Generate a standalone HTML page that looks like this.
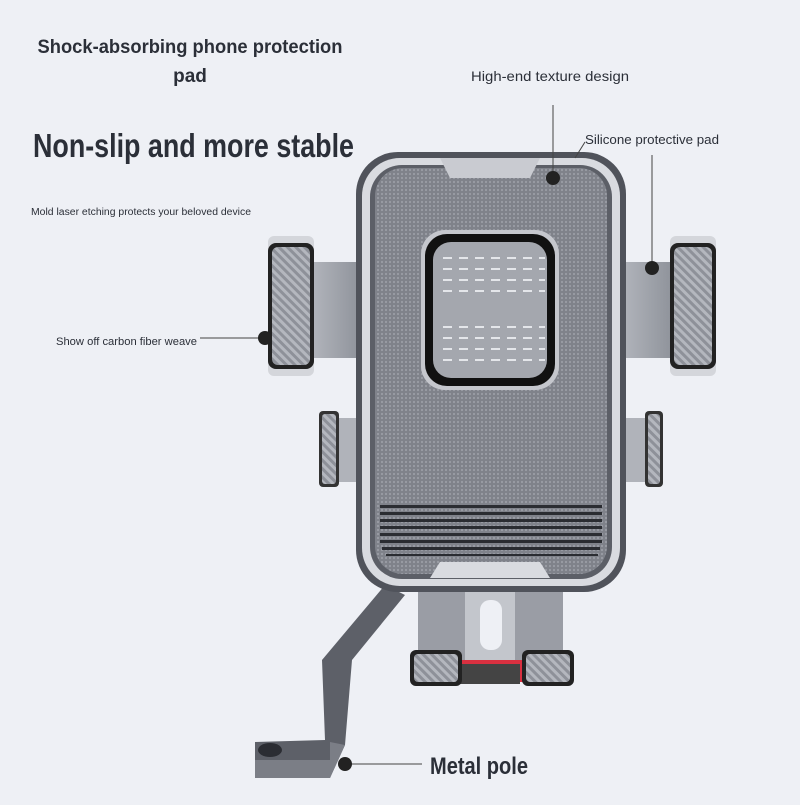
<!DOCTYPE html>
<html><head><meta charset="utf-8"><style>
html,body{margin:0;padding:0}
body{width:800px;height:800px;overflow:hidden;background:#eef0f5;font-family:"Liberation Sans",sans-serif}
</style></head><body>
<svg width="800" height="800" viewBox="0 0 800 800" xmlns="http://www.w3.org/2000/svg">
<defs>
<pattern id="tex" width="4" height="4" patternUnits="userSpaceOnUse"><rect width="4" height="4" fill="#7f828a"/><circle cx="2" cy="2" r="1.1" fill="#9a9da5"/></pattern>
<pattern id="cf" width="6" height="6" patternUnits="userSpaceOnUse" patternTransform="rotate(-45)"><rect width="6" height="6" fill="#8e9199"/><rect width="3" height="6" fill="#b4b7be"/></pattern>
<linearGradient id="arm" x1="0" x2="1"><stop offset="0" stop-color="#b3b6bd"/><stop offset="1" stop-color="#8f939b"/></linearGradient>
</defs>
<rect width="800" height="800" fill="#eef0f5"/>
<g font-family="Liberation Sans, sans-serif" fill="#2b2f38">
<text x="190" y="53" font-size="19" font-weight="bold" text-anchor="middle" textLength="305" lengthAdjust="spacingAndGlyphs">Shock-absorbing phone protection</text>
<text x="190" y="82" font-size="19" font-weight="bold" text-anchor="middle">pad</text>
<text x="33" y="157" font-size="33" font-weight="bold" textLength="321" lengthAdjust="spacingAndGlyphs">Non-slip and more stable</text>
<text x="31" y="215" font-size="10" textLength="220" lengthAdjust="spacingAndGlyphs">Mold laser etching protects your beloved device</text>
<text x="471" y="81" font-size="14" textLength="158" lengthAdjust="spacingAndGlyphs">High-end texture design</text>
<text x="585" y="144" font-size="13" textLength="134" lengthAdjust="spacingAndGlyphs">Silicone protective pad</text>
<text x="56" y="345" font-size="11" textLength="141" lengthAdjust="spacingAndGlyphs">Show off carbon fiber weave</text>
<text x="430" y="774" font-size="24" font-weight="bold" textLength="98" lengthAdjust="spacingAndGlyphs">Metal pole</text>
</g>
<!-- pole -->
<path d="M385 585 L405 595 L352 660 L345 745 L330 778 L255 778 L255 742 L325 740 L322 660 Z" fill="#5d6068"/>
<path d="M330 742 L345 745 L330 778 L255 778 L255 760 L330 760Z" fill="#7b7e86"/>
<ellipse cx="270" cy="750" rx="12" ry="7" fill="#2b2d33"/>
<!-- bottom clamp -->
<rect x="418" y="585" width="145" height="95" fill="#9a9da5"/>
<rect x="465" y="590" width="50" height="90" fill="#c3c6cc"/>
<rect x="480" y="600" width="22" height="50" rx="10" fill="#eef0f5"/>
<rect x="445" y="660" width="90" height="22" fill="#d93040"/>
<rect x="460" y="664" width="60" height="20" fill="#444"/>
<rect x="410" y="650" width="52" height="36" rx="6" fill="#222"/><rect x="414" y="654" width="44" height="28" rx="4" fill="url(#cf)"/>
<rect x="522" y="650" width="52" height="36" rx="6" fill="#222"/><rect x="526" y="654" width="44" height="28" rx="4" fill="url(#cf)"/>
<!-- side arms -->
<rect x="310" y="262" width="50" height="96" fill="url(#arm)"/>
<rect x="620" y="262" width="52" height="96" fill="url(#arm)"/>
<rect x="325" y="418" width="35" height="64" fill="#b0b3ba"/>
<rect x="620" y="418" width="35" height="64" fill="#b0b3ba"/>
<rect x="268" y="236" width="46" height="140" rx="6" fill="#d4d6db"/>
<rect x="268" y="243" width="46" height="126" rx="8" fill="#222"/><rect x="272" y="247" width="38" height="118" rx="6" fill="url(#cf)"/>
<rect x="670" y="236" width="46" height="140" rx="6" fill="#d4d6db"/>
<rect x="670" y="243" width="46" height="126" rx="8" fill="#222"/><rect x="674" y="247" width="38" height="118" rx="6" fill="url(#cf)"/>
<rect x="319" y="411" width="20" height="76" rx="4" fill="#333"/><rect x="322" y="414" width="14" height="70" rx="3" fill="url(#cf)"/>
<rect x="645" y="411" width="18" height="76" rx="4" fill="#333"/><rect x="648" y="414" width="12" height="70" rx="3" fill="url(#cf)"/>
<!-- main body -->
<rect x="356" y="152" width="270" height="440" rx="42" fill="#50535b"/>
<rect x="362" y="158" width="258" height="428" rx="38" fill="#d9dbe0"/>
<rect x="370" y="165" width="242" height="414" rx="32" fill="#5c5f67"/>
<rect x="375" y="168" width="232" height="406" rx="28" fill="url(#tex)"/>
<path d="M440 158 L540 158 L530 178 L450 178Z" fill="#c9cbd1"/>
<path d="M430 578 L550 578 L540 562 L440 562Z" fill="#d9dbe0"/>
<g fill="#2a2c31">
<rect x="380" y="505" width="222" height="3"/><rect x="380" y="512" width="222" height="3"/><rect x="380" y="519" width="222" height="3"/><rect x="380" y="526" width="222" height="3"/><rect x="380" y="533" width="222" height="3"/><rect x="380" y="540" width="222" height="3"/><rect x="382" y="547" width="218" height="3"/><rect x="386" y="554" width="212" height="2"/>
</g>
<rect x="421" y="230" width="138" height="160" rx="24" fill="#c5c7cd"/>
<rect x="425" y="234" width="130" height="152" rx="22" fill="#111"/>
<rect x="433" y="242" width="114" height="136" rx="18" fill="#a4a7ae"/>
<g stroke="#e4e6ea" stroke-width="2" stroke-dasharray="9 7">
<line x1="443" y1="258" x2="545" y2="258"/><line x1="443" y1="269" x2="545" y2="269"/><line x1="443" y1="280" x2="545" y2="280"/><line x1="443" y1="291" x2="545" y2="291"/>
<line x1="443" y1="327" x2="545" y2="327"/><line x1="443" y1="338" x2="545" y2="338"/><line x1="443" y1="349" x2="545" y2="349"/><line x1="443" y1="360" x2="545" y2="360"/>
</g>
<!-- callouts -->
<g stroke="#444" stroke-width="1" fill="none">
<line x1="553" y1="105" x2="553" y2="178"/>
<line x1="652" y1="155" x2="652" y2="268"/>
<line x1="200" y1="338" x2="265" y2="338"/>
<line x1="345" y1="764" x2="422" y2="764"/>
<line x1="585" y1="142" x2="575" y2="158"/>
</g>
<g fill="#222">
<circle cx="553" cy="178" r="7"/><circle cx="652" cy="268" r="7"/><circle cx="265" cy="338" r="7"/><circle cx="345" cy="764" r="7"/>
</g>
</svg>
</body></html>
